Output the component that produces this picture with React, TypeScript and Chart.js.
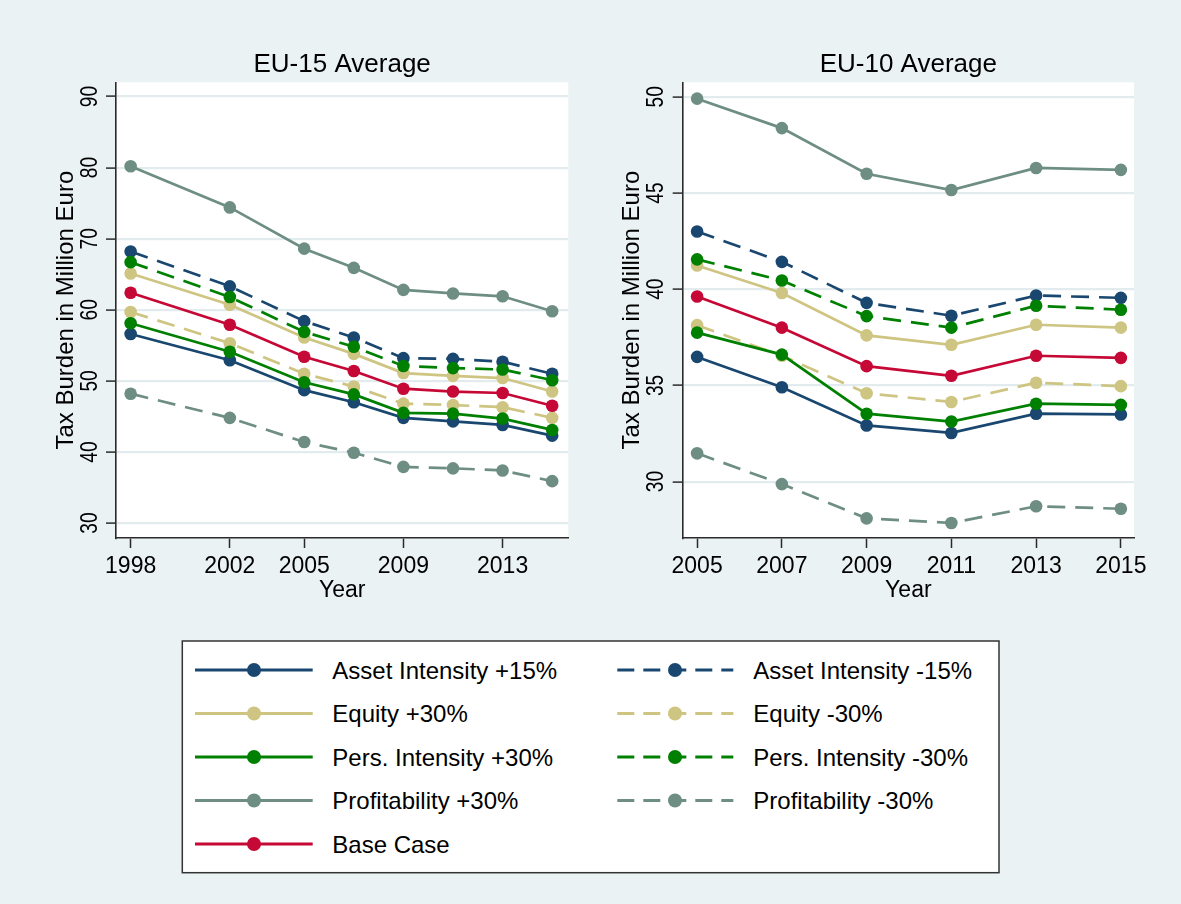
import React, { useEffect, useRef } from "react";
import { Chart, registerables } from "chart.js";

Chart.register(...registerables);

// ---------- data ----------
const SERIES_NAMES = [
  "Asset Intensity +15%",
  "Asset Intensity -15%",
  "Equity +30%",
  "Equity -30%",
  "Pers. Intensity +30%",
  "Pers. Intensity -30%",
  "Profitability +30%",
  "Profitability -30%",
  "Base Case",
];

const EU15_TITLE = "EU-15 Average";
const EU15_YEARS = [1998, 2002, 2005, 2007, 2009, 2011, 2013, 2015];
const EU15_X_TICKS = [1998, 2002, 2005, 2009, 2013];
const EU15_Y_TICKS = [30, 40, 50, 60, 70, 80, 90];
const EU15_ASSET_P15 = [56.6, 52.9, 48.7, 47.0, 44.8, 44.3, 43.8, 42.3];
const EU15_ASSET_M15 = [68.2, 63.3, 58.4, 56.1, 53.2, 53.1, 52.7, 51.0];
const EU15_EQUITY_P30 = [65.1, 60.7, 56.1, 53.8, 51.1, 50.7, 50.4, 48.5];
const EU15_EQUITY_M30 = [59.7, 55.3, 51.0, 49.2, 46.8, 46.6, 46.3, 44.8];
const EU15_PERS_P30 = [58.1, 54.1, 49.8, 48.1, 45.5, 45.4, 44.7, 43.1];
const EU15_PERS_M30 = [66.7, 61.8, 56.9, 54.8, 52.1, 51.8, 51.6, 50.1];
const EU15_PROFIT_P30 = [80.2, 74.4, 68.6, 65.9, 62.8, 62.3, 61.9, 59.8];
const EU15_PROFIT_M30 = [48.2, 44.8, 41.4, 39.9, 37.9, 37.7, 37.4, 35.9];
const EU15_BASE = [62.4, 57.9, 53.4, 51.4, 48.9, 48.5, 48.3, 46.5];

const EU10_TITLE = "EU-10 Average";
const EU10_YEARS = [2005, 2007, 2009, 2011, 2013, 2015];
const EU10_X_TICKS = [2005, 2007, 2009, 2011, 2013, 2015];
const EU10_Y_TICKS = [30, 35, 40, 45, 50];
const EU10_ASSET_P15 = [36.48, 34.9, 32.92, 32.53, 33.53, 33.49];
const EU10_ASSET_M15 = [43.0, 41.42, 39.29, 38.62, 39.67, 39.55];
const EU10_EQUITY_P30 = [41.23, 39.8, 37.6, 37.11, 38.15, 38.0];
const EU10_EQUITY_M30 = [38.13, 36.54, 34.59, 34.14, 35.14, 34.96];
const EU10_PERS_P30 = [37.74, 36.6, 33.53, 33.12, 34.05, 33.99];
const EU10_PERS_M30 = [41.55, 40.45, 38.6, 38.0, 39.14, 38.93];
const EU10_PROFIT_P30 = [49.9, 48.37, 46.0, 45.15, 46.3, 46.2];
const EU10_PROFIT_M30 = [31.47, 29.87, 28.09, 27.85, 28.72, 28.59];
const EU10_BASE = [39.62, 38.0, 36.0, 35.5, 36.54, 36.43];

const Y_TITLE = "Tax Burden in Million Euro";
const X_TITLE = "Year";

// ---------- styles ----------
const NAVY = "rgb(26,71,111)";
const KHAKI = "rgb(206,197,130)";
const GREEN = "rgb(0,128,0)";
const TEAL = "rgb(110,142,132)";
const CRANBERRY = "rgb(198,8,54)";
const SERIES_STYLE = [
  { color: NAVY, dashed: false },
  { color: NAVY, dashed: true },
  { color: KHAKI, dashed: false },
  { color: KHAKI, dashed: true },
  { color: GREEN, dashed: false },
  { color: GREEN, dashed: true },
  { color: TEAL, dashed: false },
  { color: TEAL, dashed: true },
  { color: CRANBERRY, dashed: false },
];

const BG = "#EAF2F3";
const GRID = "#E2ECEF";
const AXIS = "#2a2a2a";
const FONT = '"Liberation Sans", Arial, sans-serif';
const CANVAS_H = 620;

type PanelCfg = {
  title: string;
  years: number[];
  values: number[][];
  xTicks: number[];
  yTicks: number[];
  xMin: number;
  xMax: number;
  yMin: number;
  yMax: number;
  left: number;
  width: number;
  plotLeft: number;
  plotRight: number;
};

const PANELS: PanelCfg[] = [
  {
    title: EU15_TITLE,
    years: EU15_YEARS,
    values: [
      EU15_ASSET_P15, EU15_ASSET_M15, EU15_EQUITY_P30, EU15_EQUITY_M30,
      EU15_PERS_P30, EU15_PERS_M30, EU15_PROFIT_P30, EU15_PROFIT_M30, EU15_BASE,
    ],
    xTicks: EU15_X_TICKS,
    yTicks: EU15_Y_TICKS,
    xMin: 1997.41,
    xMax: 2015.65,
    yMin: 27.9,
    yMax: 92.0,
    left: 0,
    width: 590,
    plotLeft: 116,
    plotRight: 568.3,
  },
  {
    title: EU10_TITLE,
    years: EU10_YEARS,
    values: [
      EU10_ASSET_P15, EU10_ASSET_M15, EU10_EQUITY_P30, EU10_EQUITY_M30,
      EU10_PERS_P30, EU10_PERS_M30, EU10_PROFIT_P30, EU10_PROFIT_M30, EU10_BASE,
    ],
    xTicks: EU10_X_TICKS,
    yTicks: EU10_Y_TICKS,
    xMin: 2004.66,
    xMax: 2015.31,
    yMin: 27.07,
    yMax: 50.75,
    left: 590,
    width: 591,
    plotLeft: 92.7,
    plotRight: 544,
  },
];

function makePlugin(cfg: PanelCfg) {
  return {
    id: "stataPanel",
    beforeDraw(chart: any) {
      const { ctx, chartArea } = chart;
      ctx.save();
      ctx.fillStyle = "#ffffff";
      ctx.fillRect(chartArea.left, chartArea.top, chartArea.right - chartArea.left, chartArea.bottom - chartArea.top);
      ctx.restore();
    },
    afterDraw(chart: any) {
      const { ctx, chartArea } = chart;
      const xs = chart.scales.x;
      const ys = chart.scales.y;
      const cx = (chartArea.left + chartArea.right) / 2;
      const cy = (chartArea.top + chartArea.bottom) / 2;
      ctx.save();
      ctx.fillStyle = "#000";
      // title
      ctx.font = `26px ${FONT}`;
      ctx.textAlign = "center";
      ctx.textBaseline = "alphabetic";
      ctx.fillText(cfg.title, cx, 72.3);
      // x tick labels
      ctx.font = `23px ${FONT}`;
      cfg.xTicks.forEach((v) => {
        ctx.fillText(String(v), xs.getPixelForValue(v), 573.3);
      });
      // x title
      ctx.fillText(X_TITLE, cx, 596.7);
      // y tick labels (rotated, slightly condensed)
      ctx.font = `24px ${FONT}`;
      cfg.yTicks.forEach((v) => {
        ctx.save();
        ctx.translate(chartArea.left - 19.3, ys.getPixelForValue(v));
        ctx.rotate(-Math.PI / 2);
        ctx.scale(0.8, 1);
        ctx.textAlign = "center";
        ctx.fillText(String(v), 0, 0);
        ctx.restore();
      });
      // y title
      ctx.save();
      ctx.translate(chartArea.left - 43.5, cy);
      ctx.rotate(-Math.PI / 2);
      ctx.textAlign = "center";
      ctx.fillText(Y_TITLE, 0, 0);
      ctx.restore();
      ctx.restore();
    },
  };
}

function Panel({ cfg }: { cfg: PanelCfg }) {
  const ref = useRef<HTMLCanvasElement>(null);
  useEffect(() => {
    const canvas = ref.current;
    if (!canvas) return;
    const datasets = SERIES_NAMES.map((name, i) => {
      const st = SERIES_STYLE[i];
      return {
        label: name,
        data: cfg.years.map((x, j) => ({ x, y: cfg.values[i][j] })),
        borderColor: st.color,
        backgroundColor: st.color,
        borderWidth: 2.7,
        borderDash: st.dashed ? [18, 10] : [],
        pointRadius: 6.3,
        pointHoverRadius: 6.3,
        pointBorderWidth: 0,
        pointBackgroundColor: st.color,
        tension: 0,
        fill: false,
        order: SERIES_NAMES.length - i,
      };
    });
    const chart = new Chart(canvas, {
      type: "line",
      data: { datasets } as any,
      options: {
        responsive: false,
        animation: false,
        events: [],
        layout: {
          padding: { left: 0, top: 82.3, right: cfg.width - cfg.plotRight, bottom: 22 },
        },
        plugins: {
          legend: { display: false },
          tooltip: { enabled: false },
          title: { display: false },
        },
        scales: {
          x: {
            type: "linear",
            min: cfg.xMin,
            max: cfg.xMax,
            afterBuildTicks: (s: any) => {
              s.ticks = cfg.xTicks.map((v) => ({ value: v }));
            },
            afterFit: (s: any) => {
              s.height = 60;
            },
            ticks: { display: false },
            grid: {
              drawOnChartArea: false,
              drawTicks: true,
              tickLength: 10,
              tickColor: AXIS,
              tickWidth: 1.5,
            },
            border: { display: true, color: AXIS, width: 1.6 },
          },
          y: {
            type: "linear",
            min: cfg.yMin,
            max: cfg.yMax,
            afterBuildTicks: (s: any) => {
              s.ticks = cfg.yTicks.map((v) => ({ value: v }));
            },
            afterFit: (s: any) => {
              s.width = cfg.plotLeft;
            },
            ticks: { display: false },
            grid: {
              color: GRID,
              lineWidth: 2.2,
              drawTicks: true,
              tickLength: 10,
              tickColor: AXIS,
              tickWidth: 1.5,
            },
            border: { display: true, color: AXIS, width: 1.6 },
          },
        },
      } as any,
      plugins: [makePlugin(cfg)],
    });
    return () => chart.destroy();
  }, [cfg]);
  return (
    <canvas
      ref={ref}
      width={cfg.width}
      height={CANVAS_H}
      style={{ position: "absolute", left: cfg.left, top: 0, width: cfg.width, height: CANVAS_H }}
    />
  );
}

// legend layout
const LEGEND_LEFT_ITEMS = [0, 2, 4, 6, 8];
const LEGEND_RIGHT_ITEMS = [1, 3, 5, 7];

function Legend() {
  const rowY = (r: number) => 670 + r * 43.5;
  const cols = [
    { items: LEGEND_LEFT_ITEMS, x0: 195, x1: 312.7, mx: 254, tx: 332.3 },
    { items: LEGEND_RIGHT_ITEMS, x0: 617.3, x1: 733.3, mx: 675, tx: 753.3 },
  ];
  return (
    <svg
      width={1181}
      height={904}
      style={{ position: "absolute", left: 0, top: 0, pointerEvents: "none" }}
    >
      <rect x={182.3} y={641} width={816.7} height={231.7} fill="#fff" stroke="#333" strokeWidth={1.5} />
      {cols.map((c, ci) =>
        c.items.map((idx, r) => {
          const st = SERIES_STYLE[idx];
          const y = rowY(r);
          return (
            <g key={`${ci}-${r}`}>
              <line
                x1={c.x0}
                x2={c.x1}
                y1={y}
                y2={y}
                stroke={st.color}
                strokeWidth={2.8}
                strokeDasharray={st.dashed ? "17 9" : undefined}
              />
              <circle cx={c.mx} cy={y} r={7} fill={st.color} />
              <text x={c.tx} y={y + 8.6} fontFamily={FONT} fontSize={24} fill="#000">
                {SERIES_NAMES[idx]}
              </text>
            </g>
          );
        })
      )}
    </svg>
  );
}

export default function App() {
  return (
    <div
      style={{
        position: "fixed",
        left: 0,
        top: 0,
        width: 1181,
        height: 904,
        background: BG,
        overflow: "hidden",
      }}
    >
      {PANELS.map((p, i) => (
        <Panel key={i} cfg={p} />
      ))}
      <Legend />
    </div>
  );
}
